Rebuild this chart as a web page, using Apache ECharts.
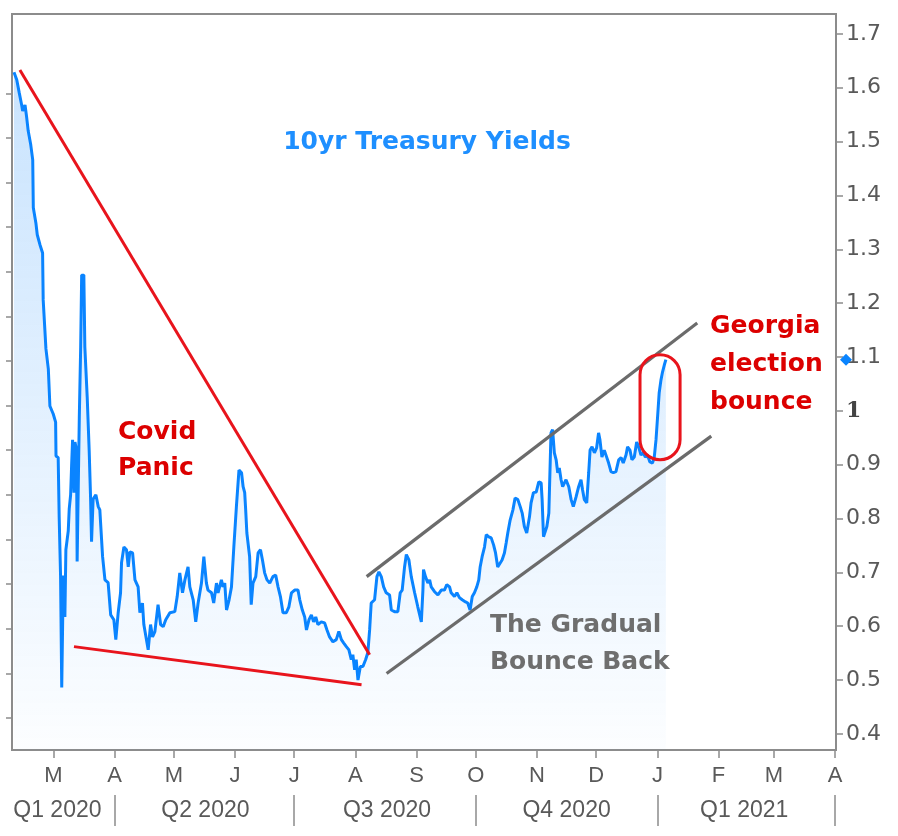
<!DOCTYPE html>
<html>
<head>
<meta charset="utf-8">
<script src="https://cdn.jsdelivr.net/npm/echarts@6/dist/echarts.min.js"></script>
<style>
  html, body { margin: 0; padding: 0; background: #fff; }
  #chart { width: 898px; height: 836px; }
</style>
</head>
<body>
<div id="chart"></div>
<script>
// 10yr yields, days counted from 9 Feb 2020
const baseDate = new Date(2020, 1, 9).getTime();
const DAY = 86400000;

const days = [
  1.0,2.4,3.7,4.9,5.4,6.6,7.4,8.2,9.5,10.5,10.8,12.1,12.8,14.2,15.5,15.8,17.2,18.4,19.2,20.9,
  22.1,22.3,23.4,23.9,24.6,25.2,26.0,26.8,27.3,28.5,29.0,29.7,30.2,30.7,31.4,31.9,32.7,33.0,33.8,34.1,
  34.8,35.3,36.4,36.9,38.1,39.1,39.8,40.3,
  41.1,42.5,43.7,44.5,45.9,47.1,48.7,50.0,51.6,52.6,53.8,55.0,55.5,56.7,58.0,58.9,59.7,61.1,62.3,63.9,
  64.8,66.1,66.8,67.8,69.0,70.2,71.2,72.4,74.0,75.3,76.6,77.9,80.0,82.5,83.7,85.0,86.4,87.6,89.2,90.1,
  91.8,93.1,94.3,96.0,97.2,98.5,99.3,101.1,102.2,103.6,104.4,106.1,106.9,107.8,108.7,110.0,111.2,112.4,113.7,115.0,
  116.3,117.1,117.9,
  118.4,119.0,120.4,121.2,122.1,123.5,124.7,125.9,126.9,128.0,129.2,130.6,132.2,133.6,134.8,136.0,137.3,139.0,140.3,141.6,
  143.2,144.9,145.8,147.1,148.3,149.2,150.5,151.7,152.8,153.9,155.0,156.7,158.4,159.6,160.9,162.6,164.3,165.6,166.9,168.0,
  169.4,170.7,171.9,172.7,173.6,174.4,175.3,176.5,177.8,179.2,180.3,181.2,182.0,183.7,184.9,
  185.9,187.1,188.3,189.6,191.3,192.2,193.8,195.5,196.7,197.7,198.9,199.8,201.1,202.3,204.0,205.6,207.4,208.2,208.5,209.5,
  210.7,211.6,212.4,214.1,215.8,217.5,219.1,220.3,221.7,222.5,224.2,225.4,226.7,228.1,229.8,230.9,232.1,233.2,234.3,235.5,
  236.5,237.2,238.2,239.4,240.3,241.6,242.8,244.0,245.0,246.1,247.0,248.3,249.5,250.4,251.2,252.4,253.8,254.9,256.3,257.5,
  258.5,259.6,260.8,262.2,263.0,264.2,265.6,266.9,268.1,268.6,269.3,270.3,271.0,272.0,273.1,273.9,274.8,275.7,276.5,277.3,
  278.2,279.0,280.7,282.1,283.3,284.4,285.8,287.1,288.3,289.1,290.0,291.2,292.2,292.9,293.9,295.1,296.2,297.2,297.9,298.9,
  300.1,301.3,302.3,303.5,304.7,306.0,307.4,308.6,309.7,311.1,311.9,313.1,314.1,315.3,316.5,317.5,318.7,319.9,320.9,322.0,
  323.2,324.5,325.4,326.3,327.1,327.9,328.8,329.6,330.5,331.3
];

const yields = [
  1.629,1.615,1.590,1.568,1.557,1.568,1.546,1.520,1.494,1.466,1.377,1.349,1.327,1.308,1.293,1.206,1.115,1.078,1.009,0.994,
  0.979,0.916,0.913,0.803,0.694,0.486,0.694,0.617,0.742,0.777,0.818,0.844,0.898,0.946,0.848,0.942,0.927,0.720,0.723,0.987,
  1.119,1.252,1.252,1.119,1.026,0.927,0.840,0.757,
  0.836,0.844,0.822,0.816,0.729,0.686,0.681,0.621,0.612,0.575,0.625,0.662,0.718,0.747,0.742,0.710,0.738,0.736,0.686,0.673,
  0.625,0.643,0.603,0.606,0.556,0.603,0.580,0.590,0.640,0.603,0.599,0.612,0.625,0.627,0.655,0.699,0.662,0.686,0.710,0.673,
  0.649,0.608,0.643,0.680,0.729,0.680,0.667,0.662,0.643,0.680,0.662,0.686,0.673,0.680,0.630,0.649,0.673,0.747,0.822,0.890,
  0.885,0.859,0.848,
  0.816,0.773,0.729,0.640,0.680,0.692,0.736,0.742,0.723,0.699,0.686,0.680,0.692,0.695,0.673,0.655,0.625,0.625,0.636,0.662,
  0.667,0.667,0.649,0.630,0.617,0.593,0.612,0.621,0.608,0.617,0.603,0.608,0.606,0.593,0.580,0.571,0.575,0.590,0.575,0.569,
  0.562,0.556,0.538,0.547,0.519,0.538,0.500,0.525,0.525,0.538,0.551,0.593,0.643,0.649,0.692,
  0.701,0.692,0.673,0.662,0.658,0.630,0.627,0.627,0.662,0.667,0.710,0.733,0.723,0.692,0.662,0.636,0.608,0.667,0.705,0.692,
  0.680,0.686,0.673,0.664,0.658,0.667,0.667,0.677,0.673,0.662,0.655,0.662,0.653,0.649,0.645,0.643,0.630,0.655,0.662,0.673,
  0.686,0.710,0.729,0.747,0.770,0.766,0.764,0.751,0.736,0.710,0.710,0.723,0.736,0.755,0.773,0.797,0.816,0.838,0.835,0.822,
  0.810,0.785,0.773,0.803,0.829,0.848,0.849,0.868,0.866,0.835,0.766,0.764,0.785,0.810,0.959,0.965,0.922,0.909,0.885,0.894,
  0.872,0.859,0.872,0.859,0.835,0.822,0.840,0.859,0.872,0.853,0.835,0.829,0.885,0.927,0.933,0.922,0.931,0.959,0.946,0.914,
  0.927,0.914,0.903,0.887,0.885,0.887,0.909,0.913,0.903,0.918,0.933,0.927,0.909,0.914,0.942,0.933,0.918,0.922,0.914,0.918,
  0.905,0.903,0.913,0.946,0.989,1.033,1.057,1.072,1.085,1.095
];

const monthTicks = ['2020-03-01','2020-04-01','2020-05-01','2020-06-01','2020-07-01','2020-08-01','2020-09-01',
  '2020-10-01','2020-11-01','2020-12-01','2021-01-01','2021-02-01','2021-03-01','2021-04-01'];
const quarterBounds = ['2020-04-01','2020-07-01','2020-10-01','2021-01-01','2021-04-01'];
const quarterNames = ['Q1 2020','Q2 2020','Q3 2020','Q4 2020','Q1 2021'];
const quarterMids = ['2020-03-03','2020-05-17','2020-08-17','2020-11-16','2021-02-14'];
const yTicks = [0.4,0.5,0.6,0.7,0.8,0.9,1.0,1.1,1.2,1.3,1.4,1.5,1.6,1.7];
const leftTicks = [0.72,1.72,2.72,3.72,4.72,5.72,6.72,7.72,8.72,9.72,10.72,11.72,12.72,13.72,14.72];

// trend lines [startDay, startYield, endDay, endYield]
const redLines = [[4.0, 1.633, 181.2, 0.547], [31.4, 0.562, 177.1, 0.491]];
const greyLines = [[179.7, 0.692, 347.2, 1.163], [189.8, 0.512, 354.3, 0.953]];
const bounceBox = [318.2, 1.104, 338.5, 0.909];

const toTime = d => baseDate + d * DAY;
const parseDay = s => { const p = s.split('-'); return new Date(+p[0], +p[1] - 1, +p[2]).getTime(); };
const seriesData = days.map((d, i) => [toTime(d), yields[i]]);
const monthVals = monthTicks.map(parseDay);
const quarterVals = quarterBounds.map(parseDay);
const quarterMidVals = quarterMids.map(parseDay);
const xMin = baseDate;
const xMax = new Date(2021, 3, 1, 12).getTime();

const axisGrey = '#8c8c8c';
const labelGrey = '#595959';

function makeLine(l, color, width) {
  return [
    {coord: [toTime(l[0]), l[1]], lineStyle: {color: color, width: width, type: 'solid'}},
    {coord: [toTime(l[2]), l[3]]}
  ];
}

const chart = echarts.init(document.getElementById('chart'));

const option = {
  animation: false,
  grid: {
    left: 12, right: 62, top: 14, bottom: 86,
    show: true, borderColor: axisGrey, borderWidth: 2,
    outerBoundsMode: 'none'
  },
  xAxis: [
    {
      type: 'value', min: xMin, max: xMax,
      axisLine: {show: false},
      splitLine: {show: false},
      axisTick: {show: true, customValues: monthVals, length: 8, lineStyle: {color: axisGrey, width: 1.5}},
      axisLabel: {
        customValues: monthVals,
        formatter: v => 'JFMAMJJASOND'[new Date(v).getMonth()],
        fontFamily: 'Liberation Sans', fontSize: 22, color: labelGrey, margin: 15
      }
    },
    {
      type: 'value', min: xMin, max: xMax, position: 'bottom', offset: 45,
      axisLine: {show: false},
      splitLine: {show: false},
      axisTick: {show: true, customValues: quarterVals, length: 31, lineStyle: {color: axisGrey, width: 1.5}},
      axisLabel: {
        customValues: quarterMidVals,
        formatter: v => quarterNames[quarterMidVals.indexOf(v)] || '',
        fontFamily: 'Liberation Sans', fontSize: 23, color: labelGrey, margin: 4
      }
    }
  ],
  yAxis: [
    {
      type: 'value', position: 'right', min: 0.37, max: 1.737,
      splitLine: {show: false},
      axisLine: {show: true, lineStyle: {color: axisGrey, width: 2}},
      axisTick: {show: true, customValues: yTicks, length: 7, lineStyle: {color: axisGrey, width: 1.5}},
      axisLabel: {
        customValues: yTicks,
        margin: 10,
        fontFamily: 'DejaVu Sans', fontSize: 22, color: labelGrey,
        formatter: v => {
          const s = String(Math.round(v * 10) / 10);
          return s === '1' ? '{b|1}' : s;
        },
        rich: {b: {fontFamily: 'DejaVu Serif', fontWeight: 'bold', fontSize: 22, color: '#444'}}
      }
    },
    {
      type: 'value', position: 'left', min: 0, max: 16.5,
      splitLine: {show: false},
      axisLine: {show: true, lineStyle: {color: axisGrey, width: 2}},
      axisTick: {show: true, customValues: leftTicks, length: 6, lineStyle: {color: axisGrey, width: 1.5}},
      axisLabel: {show: false}
    }
  ],
  series: [
    {
      name: '10yr Treasury Yields',
      type: 'line',
      data: seriesData,
      showSymbol: false,
      lineStyle: {color: '#0a84ff', width: 3},
      areaStyle: {
        origin: 'start',
        color: new echarts.graphic.LinearGradient(0, 0, 0, 1, [
          {offset: 0, color: 'rgba(30,140,250,0.34)'},
          {offset: 1, color: 'rgba(30,140,250,0.02)'}
        ])
      },
      markLine: {
        silent: true,
        symbol: ['none', 'none'],
        label: {show: false},
        animation: false,
        data: redLines.map(l => makeLine(l, '#e8141c', 3))
          .concat(greyLines.map(l => makeLine(l, '#6b6b6b', 3.2)))
      }
    }
  ],
  graphic: [
    {
      type: 'text', id: 'title', z: 10,
      style: {x: 427, y: 142, text: '10yr Treasury Yields', fill: '#1e8fff',
        font: 'bold 25px "DejaVu Sans"', align: 'center', verticalAlign: 'middle'}
    },
    {
      type: 'text', id: 'covid', z: 10,
      style: {x: 118, y: 450, text: 'Covid\nPanic', fill: '#dc0000', lineHeight: 36,
        font: 'bold 25px "DejaVu Sans"', align: 'left', verticalAlign: 'middle'}
    },
    {
      type: 'text', id: 'georgia', z: 10,
      style: {x: 710, y: 364, text: 'Georgia\nelection\nbounce', fill: '#dc0000', lineHeight: 38,
        font: 'bold 25px "DejaVu Sans"', align: 'left', verticalAlign: 'middle'}
    },
    {
      type: 'text', id: 'gradual', z: 10,
      style: {x: 490, y: 644, text: 'The Gradual\nBounce Back', fill: '#6e6e6e', lineHeight: 37,
        font: 'bold 25px "DejaVu Sans"', align: 'left', verticalAlign: 'middle'}
    }
  ]
};

chart.setOption(option);

// bounce ellipse and last-value marker placed through the axes
const p1 = chart.convertToPixel({xAxisIndex: 0, yAxisIndex: 0}, [toTime(bounceBox[0]), bounceBox[1]]);
const p2 = chart.convertToPixel({xAxisIndex: 0, yAxisIndex: 0}, [toTime(bounceBox[2]), bounceBox[3]]);
const last = chart.convertToPixel({xAxisIndex: 0, yAxisIndex: 0}, seriesData[seriesData.length - 1]);
const w = p2[0] - p1[0];
const markerX = 836 + 10;

chart.setOption({
  graphic: [
    {
      type: 'rect', id: 'bounceBox', z: 10,
      shape: {x: p1[0], y: p1[1], width: w, height: p2[1] - p1[1], r: w / 2},
      style: {fill: 'none', stroke: '#e8141c', lineWidth: 3}
    },
    {
      type: 'polygon', id: 'lastMarker', z: 10,
      shape: {points: [[markerX, last[1] - 6], [markerX + 6, last[1]], [markerX, last[1] + 6], [markerX - 6, last[1]]]},
      style: {fill: '#0a84ff'}
    }
  ]
});
</script>
</body>
</html>
